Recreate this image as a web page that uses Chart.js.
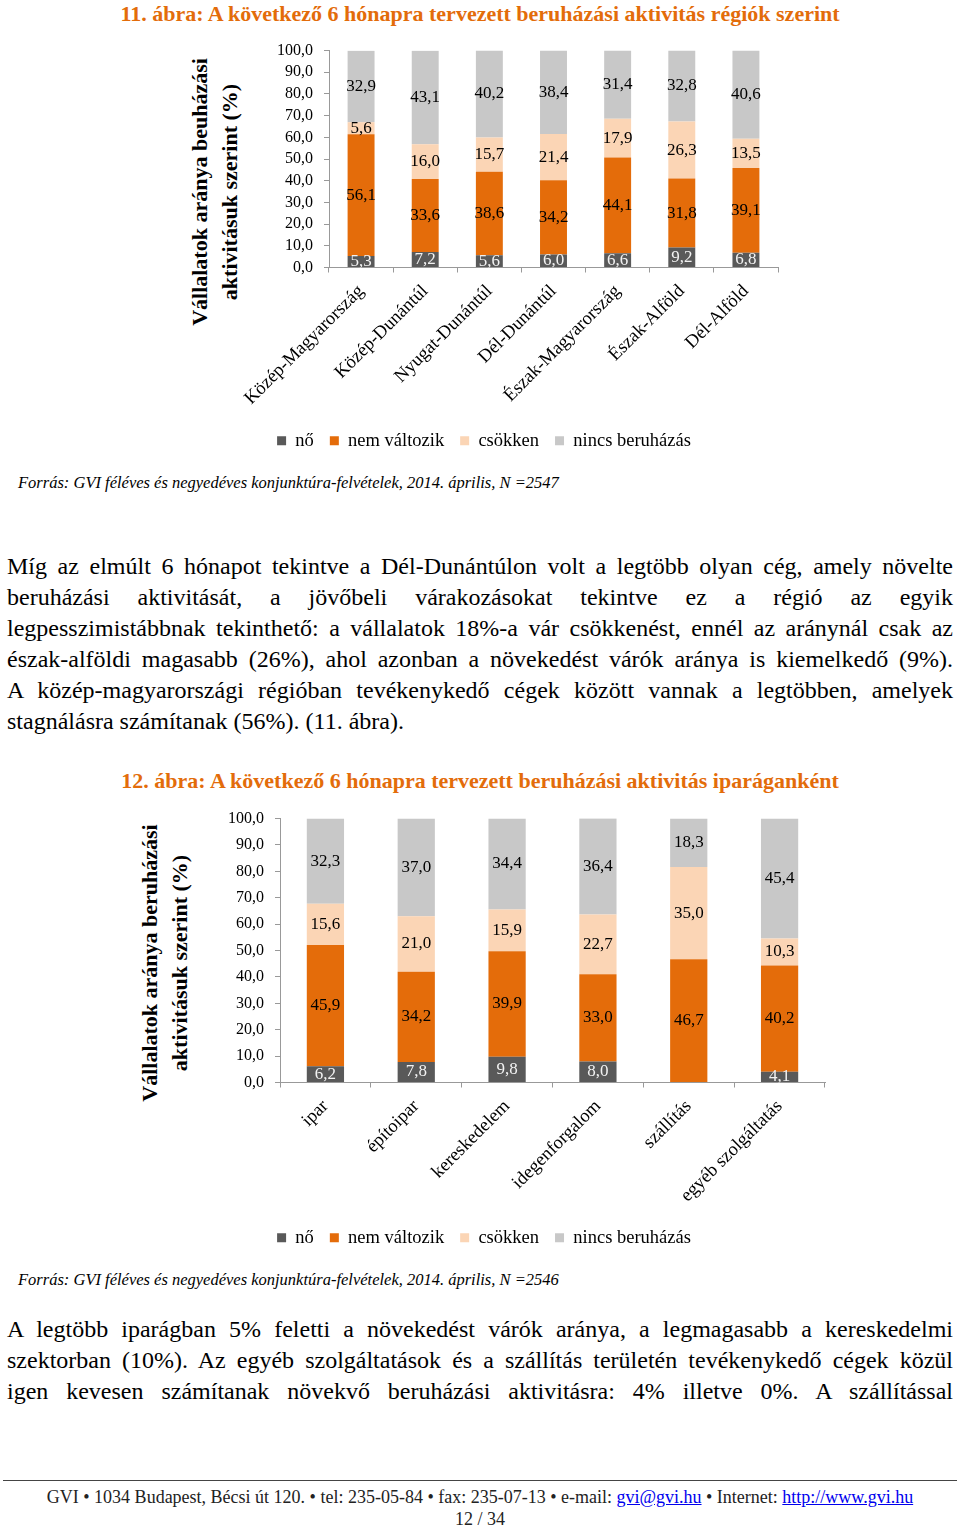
<!DOCTYPE html>
<html lang="hu">
<head>
<meta charset="utf-8">
<title>GVI – beruházási aktivitás</title>
<script src="https://cdn.jsdelivr.net/npm/chart.js@4.4.1/dist/chart.umd.min.js"></script>
<style>
  html, body { margin: 0; padding: 0; background: #fff; }
  body { width: 960px; height: 1529px; position: relative; overflow: hidden;
         font-family: "Liberation Serif", serif; color: #000; }
  .abs { position: absolute; white-space: nowrap; }
  .ttl { left: 0; width: 960px; text-align: center; font-weight: bold; font-size: 22px;
         color: #E36C0A; line-height: 26px; }
  .ytitle { width: 400px; height: 60px; line-height: 30px; text-align: center;
            font-weight: bold; font-size: 22px; transform: rotate(-90deg); }
  .src { left: 18px; font-style: italic; font-size: 16.5px; line-height: 20px; }
  .para { left: 7px; width: 946px; font-size: 24px; line-height: 31px; }
  .para div { text-align: justify; text-align-last: justify; white-space: nowrap; height: 31px; }
  .para div.last { text-align-last: left; }
  .foot { left: 0; width: 960px; text-align: center; font-size: 18px; line-height: 20px; color: #222; }
  .foot a { color: #0000ee; text-decoration: underline; }
  canvas { position: absolute; }
</style>
</head>
<body>

<div class="abs ttl" style="top:1px">11. ábra: A következő 6 hónapra tervezett beruházási aktivitás régiók szerint</div>
<div class="abs ytitle" style="left:15px; top:162px">Vállalatok aránya beuházási<br>aktivitásuk szerint (%)</div>
<div style="position:absolute; left:190px; top:30px; width:598px; height:430px"><canvas id="chart1"></canvas></div>
<div class="abs src" style="top:473px">Forrás: GVI féléves és negyedéves konjunktúra-felvételek, 2014. április, N =2547</div>

<div class="abs para" style="top:551px">
  <div>Míg az elmúlt 6 hónapot tekintve a Dél-Dunántúlon volt a legtöbb olyan cég, amely növelte</div>
  <div>beruházási aktivitását, a jövőbeli várakozásokat tekintve ez a régió az egyik</div>
  <div>legpesszimistábbnak tekinthető: a vállalatok 18%-a vár csökkenést, ennél az aránynál csak az</div>
  <div>észak-alföldi magasabb (26%), ahol azonban a növekedést várók aránya is kiemelkedő (9%).</div>
  <div>A közép-magyarországi régióban tevékenykedő cégek között vannak a legtöbben, amelyek</div>
  <div class="last">stagnálásra számítanak (56%). (11. ábra).</div>
</div>

<div class="abs ttl" style="top:768px">12. ábra: A következő 6 hónapra tervezett beruházási aktivitás iparáganként</div>
<div class="abs ytitle" style="left:-35px; top:933px">Vállalatok aránya beruházási<br>aktivitásuk szerint (%)</div>
<div style="position:absolute; left:143px; top:798px; width:692px; height:459px"><canvas id="chart2"></canvas></div>
<div class="abs src" style="top:1270px">Forrás: GVI féléves és negyedéves konjunktúra-felvételek, 2014. április, N =2546</div>

<div class="abs para" style="top:1314px">
  <div>A legtöbb iparágban 5% feletti a növekedést várók aránya, a legmagasabb a kereskedelmi</div>
  <div>szektorban (10%). Az egyéb szolgáltatások és a szállítás területén tevékenykedő cégek közül</div>
  <div>igen kevesen számítanak növekvő beruházási aktivitásra: 4% illetve 0%. A szállítással</div>
</div>

<div style="position:absolute; left:3px; top:1480px; width:954px; height:0; border-top:1.5px solid #444"></div>
<div class="abs foot" style="top:1487px">GVI • 1034 Budapest, Bécsi út 120. • tel: 235-05-84 • fax: 235-07-13 • e-mail: <a>gvi@gvi.hu</a> • Internet: <a>http://www.gvi.hu</a></div>
<div class="abs foot" style="top:1509px">12 / 34</div>

<script>
// chart 1: regions
const regions = ['Közép-Magyarország', 'Közép-Dunántúl', 'Nyugat-Dunántúl', 'Dél-Dunántúl',
                 'Észak-Magyarország', 'Észak-Alföld', 'Dél-Alföld'];
const regNo       = [5.3, 7.2, 5.6, 6.0, 6.6, 9.2, 6.8];
const regNemValt  = [56.1, 33.6, 38.6, 34.2, 44.1, 31.8, 39.1];
const regCsokken  = [5.6, 16.0, 15.7, 21.4, 17.9, 26.3, 13.5];
const regNincs    = [32.9, 43.1, 40.2, 38.4, 31.4, 32.8, 40.6];

// chart 2: industries
const industries = ['ipar', 'építoipar', 'kereskedelem', 'idegenforgalom', 'szállítás', 'egyéb szolgáltatás'];
const indNo       = [6.2, 7.8, 9.8, 8.0, 0, 4.1];
const indNemValt  = [45.9, 34.2, 39.9, 33.0, 46.7, 40.2];
const indCsokken  = [15.6, 21.0, 15.9, 22.7, 35.0, 10.3];
const indNincs    = [32.3, 37.0, 34.4, 36.4, 18.3, 45.4];

const seriesNames = ['nő', 'nem változik', 'csökken', 'nincs beruházás'];
const yTicks = [0, 10, 20, 30, 40, 50, 60, 70, 80, 90, 100];

const colors = ['#595959', '#E46C0A', '#FBD5B5', '#C8C8C8'];
const labelColors = ['#f2f2f2', '#000', '#000', '#000'];

Chart.defaults.font.family = '"Liberation Serif", serif';
Chart.defaults.color = '#000';

const fmt = v => v.toFixed(1).replace('.', ',');

// value labels in the middle of each segment, clipped to the plot like in Excel
const barLabels = {
  id: 'barLabels',
  afterDatasetsDraw(chart) {
    const {ctx, chartArea} = chart;
    ctx.save();
    ctx.beginPath();
    ctx.rect(chartArea.left, chartArea.top, chartArea.right - chartArea.left, chartArea.bottom - chartArea.top);
    ctx.clip();
    ctx.font = '17px "Liberation Serif"';
    ctx.textAlign = 'center';
    ctx.textBaseline = 'middle';
    chart.data.datasets.forEach((ds, i) => {
      chart.getDatasetMeta(i).data.forEach((bar, j) => {
        const v = ds.data[j];
        if (!v) return;
        ctx.fillStyle = labelColors[i];
        ctx.fillText(fmt(v), bar.x, (bar.y + bar.base) / 2);
      });
    });
    ctx.restore();
  }
};

function makeChart(id, labels, series, opt) {
  const datasets = series.map((d, i) => ({
    label: seriesNames[i],
    data: d,
    backgroundColor: colors[i],
    borderWidth: 0,
    barPercentage: opt.bar,
    categoryPercentage: 1
  }));
  return new Chart(document.getElementById(id), {
    type: 'bar',
    data: { labels, datasets },
    options: {
      responsive: true,
      maintainAspectRatio: false,
      animation: false,
      layout: { padding: { left: 0, right: 10, top: 19, bottom: 0 } },
      plugins: {
        legend: {
          position: 'bottom',
          labels: { boxWidth: 9, boxHeight: 9, padding: 16, font: { size: 18.5 }, color: '#000' }
        },
        tooltip: { enabled: false }
      },
      scales: {
        x: {
          stacked: true,
          grid: { offset: true, drawOnChartArea: false, tickLength: 5, color: '#999' },
          border: { color: '#999' },
          ticks: { autoSkip: false, minRotation: 45, maxRotation: 45, padding: 8, font: { size: 18.5 } },
          afterFit: s => { s.height = opt.xHeight; }
        },
        y: {
          stacked: true,
          min: 0,
          max: 100,
          afterBuildTicks: s => { s.ticks = yTicks.map(v => ({ value: v })); },
          grid: { drawOnChartArea: false, tickLength: 5, color: '#999' },
          border: { color: '#999' },
          ticks: { autoSkip: false, padding: 11, font: { size: 16 }, callback: v => fmt(v) },
          afterFit: s => { s.width = opt.yWidth; }
        }
      }
    },
    plugins: [barLabels]
  });
}

makeChart('chart1', regions, [regNo, regNemValt, regCsokken, regNincs],
  { bar: 0.42, yWidth: 139, xHeight: 148 });
makeChart('chart2', industries, [indNo, indNemValt, indCsokken, indNincs],
  { bar: 0.41, yWidth: 137, xHeight: 130 });
</script>
</body>
</html>
